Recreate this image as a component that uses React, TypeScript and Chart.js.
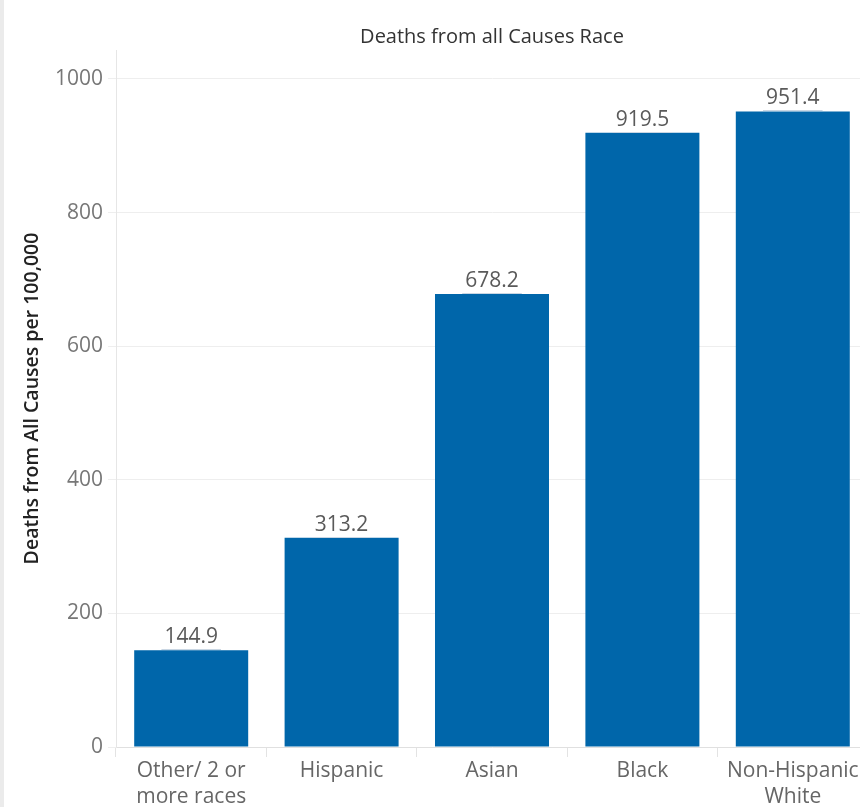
import React, { useEffect, useRef } from "react";
import { Chart, registerables } from "chart.js";

Chart.register(...registerables);

const categories: (string | string[])[] = [
  ["Other/ 2 or", "more races"],
  "Hispanic",
  "Asian",
  "Black",
  ["Non-Hispanic", "White"],
];
const deathRates = [144.9, 313.2, 678.2, 919.5, 951.4];
const yTicks = [0, 200, 400, 600, 800, 1000];
const chartTitle = "Deaths from all Causes Race";
const yAxisTitle = "Deaths from All Causes per 100,000";

const FONT = "'Open Sans', 'DejaVu Sans', sans-serif";

const labelPlugin = {
  id: "barLabels",
  afterDatasetsDraw(chart: any) {
    const ctx = chart.ctx;
    const meta = chart.getDatasetMeta(0);
    const area = chart.chartArea;
    ctx.save();
    // title centred over the plot area
    ctx.font = `20px ${FONT}`;
    ctx.fillStyle = "#333333";
    ctx.textAlign = "center";
    ctx.textBaseline = "middle";
    ctx.fillText(chartTitle, (area.left + area.right) / 2, 37);

    ctx.font = `21px ${FONT}`;
    ctx.textAlign = "center";
    ctx.textBaseline = "alphabetic";
    meta.data.forEach((bar: any, i: number) => {
      const txt = deathRates[i].toFixed(1);
      const w = ctx.measureText(txt).width;
      ctx.strokeStyle = "#c9d6e3";
      ctx.lineWidth = 1;
      ctx.beginPath();
      ctx.moveTo(bar.x - w / 2 - 3, Math.round(bar.y) - 0.5);
      ctx.lineTo(bar.x + w / 2 + 3, Math.round(bar.y) - 0.5);
      ctx.stroke();
      ctx.fillStyle = "#5a5a5a";
      ctx.fillText(txt, bar.x, bar.y - 7);
    });
    ctx.restore();
  },
};

export default function App() {
  const ref = useRef<HTMLCanvasElement | null>(null);

  useEffect(() => {
    if (!ref.current) return;
    const chart = new Chart(ref.current, {
      type: "bar",
      data: {
        labels: categories as any,
        datasets: [
          {
            data: deathRates,
            backgroundColor: "#0066aa",
            borderWidth: 0,
            barPercentage: 0.758,
            categoryPercentage: 1,
          },
        ],
      },
      options: {
        animation: false,
        responsive: false,
        maintainAspectRatio: false,
        layout: { padding: { top: 50, left: 0, right: 2, bottom: 0 } },
        plugins: {
          legend: { display: false },
          tooltip: { enabled: false },
          title: { display: false },
        },
        scales: {
          x: {
            offset: true,
            grid: {
              display: true,
              drawOnChartArea: false,
              drawTicks: true,
              tickLength: 10,
              offset: true,
              color: "#e3e3e3",
            },
            border: { display: true, color: "#e0e0e0" },
            ticks: {
              color: "#666666",
              font: { family: FONT, size: 21, lineHeight: 1.25 },
              padding: 1,
              maxRotation: 0,
              autoSkip: false,
            },
            afterFit: (scale: any) => {
              scale.height = 60;
            },
          },
          y: {
            min: 0,
            max: 1043.4,
            afterBuildTicks: (scale: any) => {
              scale.ticks = yTicks.map((v) => ({ value: v }));
            },
            afterFit: (scale: any) => {
              scale.width = 116;
            },
            grid: {
              color: "#eeeeee",
              tickLength: 8,
              drawTicks: true,
            },
            border: { display: true, color: "#e6e6e6" },
            ticks: {
              color: "#777777",
              font: { family: FONT, size: 21 },
              padding: 5,
              callback: (v: any) => String(v),
            },
            title: {
              display: true,
              text: yAxisTitle,
              color: "#222222",
              font: { family: FONT, size: 19.5, weight: "600" },
              padding: { top: 21, bottom: 0 },
            },
          },
        },
      },
      plugins: [labelPlugin],
    });
    return () => chart.destroy();
  }, []);

  return (
    <div
      style={{
        position: "fixed",
        left: 0,
        top: 0,
        width: 860,
        height: 807,
        overflow: "hidden",
        background: "#ffffff",
      }}
    >
      <canvas
        ref={ref}
        width={870}
        height={807}
        style={{ position: "absolute", left: 0, top: 0, width: 870, height: 807 }}
      />
      <div
        style={{
          position: "absolute",
          left: 0,
          top: 0,
          width: 4,
          height: 807,
          background: "#ebebeb",
        }}
      />
    </div>
  );
}
